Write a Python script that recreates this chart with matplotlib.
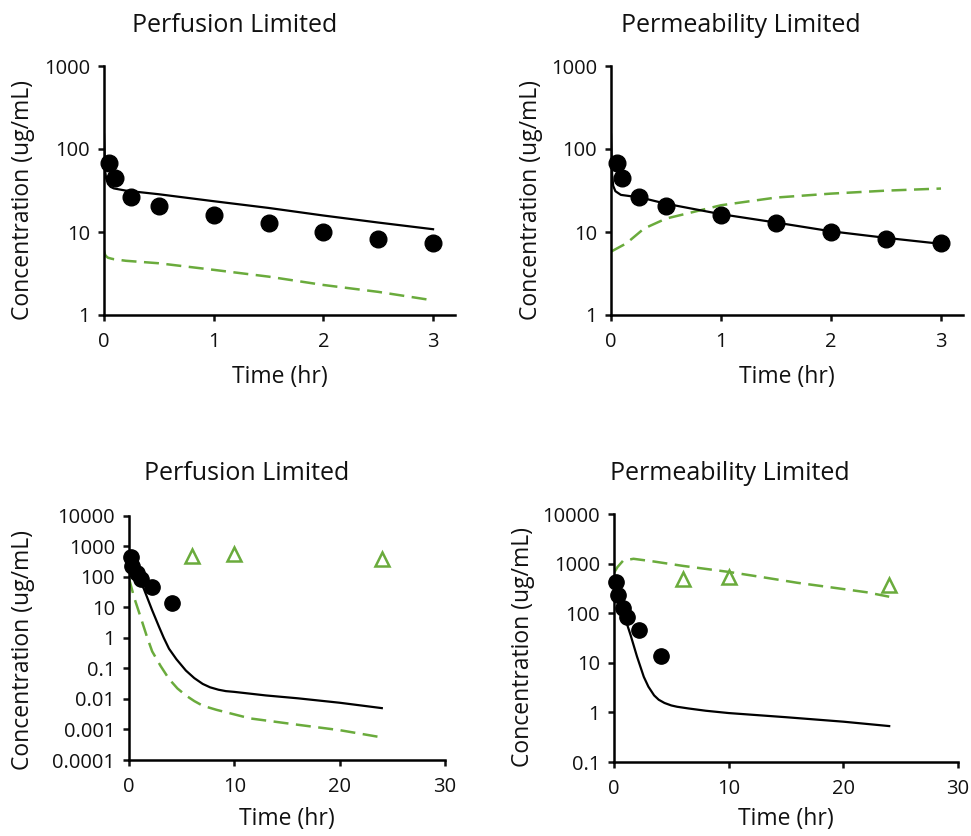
import matplotlib
matplotlib.use("Agg")
import matplotlib.pyplot as plt
from matplotlib.ticker import FixedLocator, FixedFormatter, NullLocator

plt.rcParams['font.family'] = ['Open Sans', 'DejaVu Sans']

GREEN = '#6aab3c'
INK = '#111111'

# ---- short study (0-3 h) ----
obs_t_short = [0.05, 0.1, 0.25, 0.5, 1.0, 1.5, 2.0, 2.5, 3.0]
obs_c_short = [67, 45, 26.5, 20.7, 16.0, 12.7, 10.0, 8.2, 7.3]

perf_t_short = [0, 0.005, 0.01, 0.02, 0.036, 0.06, 0.09, 0.2, 0.5, 1.0, 1.5, 2.0, 2.5, 3.0]
perf_plasma_short = [150, 90, 55, 44, 38, 35, 33.5, 31.5, 28.5, 23.5, 19.5, 15.8, 13.0, 10.8]
perf_tissue_short = [6.0, 5.6, 5.3, 5.1, 4.9, 4.8, 4.7, 4.5, 4.2, 3.5, 2.9, 2.3, 1.9, 1.5]

perm_t_short = [0, 0.005, 0.01, 0.02, 0.04, 0.09, 0.27, 0.5, 1.0, 1.5, 2.0, 2.5, 3.0]
perm_plasma_short = [150, 80, 50, 36, 31, 28, 26, 21.9, 16.4, 13.0, 10.2, 8.5, 7.2]
perm_tissue_t_short = [0, 0.14, 0.3, 0.5, 1.0, 1.5, 2.0, 2.5, 3.0]
perm_tissue_short = [5.8, 7.3, 11, 14.5, 21, 26, 29, 31.5, 33.4]

# ---- long study (0-24 h) ----
obs_t_long = [0.17, 0.33, 0.75, 1.17, 2.2, 4.1]
obs_c_long = [430, 230, 130, 85, 45, 13.5]
tis_t_long = [6, 10, 24]
tis_c_long = [480, 540, 370]

perf_t_long = [0, 0.5, 1.0, 1.4, 2.2, 2.85, 3.3, 3.8, 4.5, 5.4, 6.2, 7.0, 7.7,
               8.5, 9.2, 10.0, 13.0, 16.0, 20.0, 24.0]
perf_plasma_long = [250, 130, 70, 41, 8, 2.3, 1.0, 0.44, 0.2, 0.085, 0.048, 0.031, 0.024,
                    0.02, 0.018, 0.017, 0.013, 0.0105, 0.0075, 0.005]
perf_tissue_t_long = [0, 0.47, 1.1, 1.7, 2.2, 3.0, 3.8, 4.6, 5.4, 6.2, 7.0, 8.3,
                      11.5, 16.2, 20.0, 24.0]
perf_tissue_long = [88, 22, 4.8, 1.1, 0.36, 0.12, 0.045, 0.022, 0.013, 0.0085, 0.006,
                    0.0044, 0.0023, 0.0014, 0.00095, 0.00055]

perm_t_long = [0, 0.5, 1.0, 1.45, 2.0, 2.6, 3.0, 3.5, 3.9, 4.4, 5.0, 5.5, 6.5, 8.0,
               10.0, 15.0, 20.0, 24.0]
perm_plasma_long = [300, 150, 75, 36, 13.5, 5.2, 3.3, 2.2, 1.8, 1.55, 1.38, 1.3, 1.2, 1.08,
                    0.97, 0.8, 0.65, 0.53]
perm_tissue_t_long = [0, 0.3, 0.8, 1.7, 3.5, 6.0, 10.0, 13.0, 16.0, 19.0, 22.0, 24.0]
perm_tissue_long = [650, 850, 1150, 1250, 1100, 900, 680, 530, 410, 330, 265, 215]

yt_short = [1, 10, 100, 1000]
yt_long_perf = [0.0001, 0.001, 0.01, 0.1, 1, 10, 100, 1000, 10000]
yt_long_perm = [0.1, 1, 10, 100, 1000, 10000]


def fmt(v):
    return ('%g' % v) if v >= 1 else ('%.10f' % v).rstrip('0')


fig = plt.figure(figsize=(9.71, 8.36), dpi=100)

axes_pos = {
    'tl': [104 / 971, 1 - 315 / 836, 351 / 971, 249 / 836],
    'tr': [611 / 971, 1 - 315 / 836, 352 / 971, 249 / 836],
    'bl': [129 / 971, 1 - 760 / 836, 316 / 971, 244.3 / 836],
    'br': [614 / 971, 1 - 762 / 836, 344 / 971, 248 / 836],
}


def style(ax, xlim, xticks, yticks):
    ax.set_yscale('log')
    ax.set_xlim(*xlim)
    ax.set_ylim(yticks[0], yticks[-1])
    ax.xaxis.set_major_locator(FixedLocator(xticks))
    ax.yaxis.set_major_locator(FixedLocator(yticks))
    ax.yaxis.set_major_formatter(FixedFormatter([fmt(v) for v in yticks]))
    ax.yaxis.set_minor_locator(NullLocator())
    for s in ('top', 'right'):
        ax.spines[s].set_visible(False)
    for s in ('left', 'bottom'):
        ax.spines[s].set_linewidth(1.8)
    ax.tick_params(direction='out', length=4, width=1.8, labelsize=14.5,
                   colors=INK)
    ax.tick_params(axis='y', pad=6)
    ax.tick_params(axis='x', pad=8)


dash = (0, (6, 3))

# top-left: perfusion limited, short study
ax = fig.add_axes(axes_pos['tl'])
style(ax, (0, 3.2), [0, 1, 2, 3], yt_short)
ax.plot(perf_t_short, perf_plasma_short, color='black', lw=1.6, zorder=3)
ax.plot(perf_t_short, perf_tissue_short, color=GREEN, lw=1.8, ls=dash)
ax.plot(obs_t_short, obs_c_short, 'o', color='black', ms=12, zorder=4, clip_on=False)

# top-right: permeability limited, short study
ax = fig.add_axes(axes_pos['tr'])
style(ax, (0, 3.2), [0, 1, 2, 3], yt_short)
ax.plot(perm_t_short, perm_plasma_short, color='black', lw=1.6, zorder=3)
ax.plot(perm_tissue_t_short, perm_tissue_short, color=GREEN, lw=1.8, ls=dash)
ax.plot(obs_t_short, obs_c_short, 'o', color='black', ms=12, zorder=4, clip_on=False)

# bottom-left: perfusion limited, long study
ax = fig.add_axes(axes_pos['bl'])
style(ax, (0, 30), [0, 10, 20, 30], yt_long_perf)
ax.plot(perf_t_long, perf_plasma_long, color='black', lw=1.6, zorder=3)
ax.plot(perf_tissue_t_long, perf_tissue_long, color=GREEN, lw=1.8, ls=dash)
ax.plot(obs_t_long, obs_c_long, 'o', color='black', ms=11, zorder=4, clip_on=False)
ax.plot(tis_t_long, tis_c_long, '^', mfc='none', mec=GREEN, mew=1.8, ms=10.5, zorder=4)

# bottom-right: permeability limited, long study
ax = fig.add_axes(axes_pos['br'])
style(ax, (0, 30), [0, 10, 20, 30], yt_long_perm)
ax.plot(perm_t_long, perm_plasma_long, color='black', lw=1.6, zorder=3)
ax.plot(perm_tissue_t_long, perm_tissue_long, color=GREEN, lw=1.8, ls=dash)
ax.plot(obs_t_long, obs_c_long, 'o', color='black', ms=11, zorder=4, clip_on=False)
ax.plot(tis_t_long, tis_c_long, '^', mfc='none', mec=GREEN, mew=1.8, ms=10.5, zorder=4)

# titles, axis labels
tkw = dict(fontsize=18, color=INK, ha='center', va='center')
fig.text(235 / 971, 1 - 25 / 836, 'Perfusion Limited', **tkw)
fig.text(741 / 971, 1 - 25 / 836, 'Permeability Limited', **tkw)
fig.text(247 / 971, 1 - 473 / 836, 'Perfusion Limited', **tkw)
fig.text(730 / 971, 1 - 473 / 836, 'Permeability Limited', **tkw)

lkw = dict(fontsize=16.5, color=INK, ha='center', va='center')
fig.text(280 / 971, 1 - 377 / 836, 'Time (hr)', **lkw)
fig.text(787 / 971, 1 - 377 / 836, 'Time (hr)', **lkw)
fig.text(287 / 971, 1 - 819 / 836, 'Time (hr)', **lkw)
fig.text(786 / 971, 1 - 819 / 836, 'Time (hr)', **lkw)

fig.text(23 / 971, 1 - 200 / 836, 'Concentration (ug/mL)', rotation=90, **lkw)
fig.text(531 / 971, 1 - 200 / 836, 'Concentration (ug/mL)', rotation=90, **lkw)
fig.text(23 / 971, 1 - 650 / 836, 'Concentration (ug/mL)', rotation=90, **lkw)
fig.text(523 / 971, 1 - 647 / 836, 'Concentration (ug/mL)', rotation=90, **lkw)

fig.savefig('out.png', dpi=100, facecolor='white')
